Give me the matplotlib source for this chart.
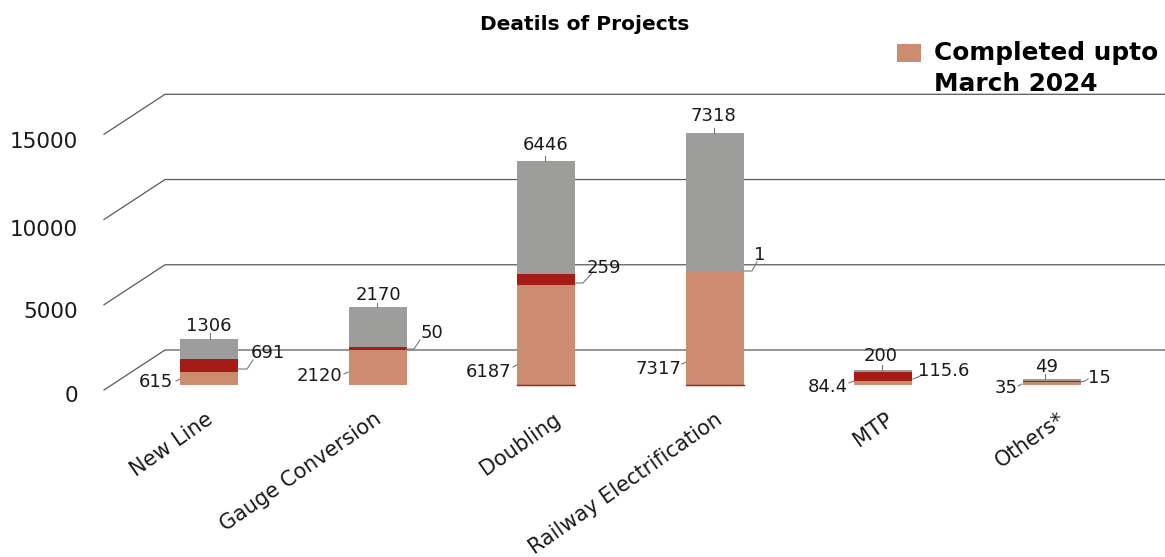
import matplotlib
matplotlib.use("Agg")
import matplotlib.pyplot as plt
import numpy as np

plt.rcParams['font.family'] = ['DejaVu Sans']

categories = ["New Line", "Gauge Conversion", "Doubling", "Railway Electrification", "MTP", "Others*"]
# printed data labels
completed_lbl = ["615", "2120", "6187", "7317", "84.4", "35"]
middle_lbl = ["691", "50", "259", "1", "115.6", "15"]
total_lbl = ["1306", "2170", "6446", "7318", "200", "49"]
# segment heights as drawn in the picture (they do not follow the printed labels exactly)
completed = [755, 2050, 5807, 6603, 261, 186]
middle = [755, 157, 639, 46, 465, 58]
upper = [1161, 2323, 6562, 8014, 174, 99]
yticks = [0, 5000, 10000, 15000]

W, H = 1165, 557
PX_PER_UNIT = 0.01722
X0, DX = 209, 168.5

SALMON = '#CD8B70'
DARKRED = '#A51B15'
GRAY = '#9D9D9B'
LINE = '#5a5a5a'
TEXT = '#1a1a1a'

fig = plt.figure(figsize=(W / 100, H / 100), dpi=100)
ax = fig.add_axes([0, 0, 1, 1])
ax.set_xlim(-X0 / DX, (W - X0) / DX)
ax.set_ylim(-(H - 385) / PX_PER_UNIT, 385 / PX_PER_UNIT)
ax.axis('off')

# pixel coords (y down) for labels and leaders
px = matplotlib.transforms.Affine2D().scale(1 / W, -1 / H).translate(0, 1) + fig.transFigure

x = np.arange(len(categories))
completed_a = np.array(completed)
middle_a = np.array(middle)
upper_a = np.array(upper)
width = 58 / DX

# fake 3d walls
x_front = (104 - X0) / DX
x_back = (165 - X0) / DX
x_end = (W - X0) / DX
for t in yticks:
    y_b = t * 0.99 + 2032
    y_f = t * 0.99 - 290
    ax.plot([x_front, x_back, x_end], [y_f, y_b, y_b], color=LINE, lw=0.9, zorder=1)

b1 = ax.bar(x, completed_a, width, color=SALMON, zorder=3, label="Completed upto\nMarch 2024")
ax.bar(x, middle_a, width, bottom=completed_a, color=DARKRED, zorder=3)
ax.bar(x, upper_a, width, bottom=completed_a + middle_a, color=GRAY, zorder=3)
# thin dark base under the two tall bars
ax.plot(x[2] + np.array([-width / 2, width / 2]), [0, 0], color=DARKRED, lw=1, zorder=4)
ax.plot(x[3] + np.array([-width / 2, width / 2]), [0, 0], color=DARKRED, lw=1, zorder=4)

# value labels: (text x, text y) in pixels, leader points in pixels
top_pos = [(209, 326), (378, 295), (546, 145), (713, 116), (881, 356), (1047, 367)]
top_lead = [(210, 339, 210, 333), (377, 307, 377, 303), (545, 161, 545, 156), (714, 133, 714, 128),
            (882, 370, 882, 365), (1045, 379, 1045, 374)]
mid_pos = [(268, 353), (432, 333), (604, 268), (760, 255), (944, 371), (1099, 378)]
mid_lead = [[(238, 369), (247, 369), (253, 360)], [(406, 349), (414, 349), (420, 340)],
            [(575, 283), (583, 283), (593, 272)], [(744, 271), (752, 271), (757, 262)],
            [(913, 379), (918, 377), (922, 375)], [(1080, 382), (1085, 381), (1088, 379)]]
low_pos = [(156, 382), (319, 376), (489, 372), (658, 369), (828, 387), (1006, 388)]
low_lead = [(180, 379, 176, 381), (348, 372, 344, 374), (517, 365, 513, 367), (686, 362, 682, 364),
            (854, 381, 849, 383), (1022, 384, 1018, 386)]

for i in x:
    ax.plot(top_lead[i][0::2], top_lead[i][1::2], color='#777777', lw=0.8, transform=px, zorder=4)
    ax.plot(*zip(*mid_lead[i]), color='#777777', lw=0.8, transform=px, zorder=4)
    ax.plot(low_lead[i][0::2], low_lead[i][1::2], color='#777777', lw=0.8, transform=px, zorder=4)
    ax.text(*top_pos[i], total_lbl[i], transform=px, ha='center', va='center', fontsize=13, color=TEXT, zorder=5)
    ax.text(*mid_pos[i], middle_lbl[i], transform=px, ha='center', va='center', fontsize=13, color=TEXT, zorder=5)
    ax.text(*low_pos[i], completed_lbl[i], transform=px, ha='center', va='center', fontsize=13, color=TEXT, zorder=5)

# y tick labels
ytick_py = [396.5, 311.5, 230.5, 142.5]
for t, py in zip(yticks, ytick_py):
    ax.text(78, py, str(t), transform=px, ha='right', va='center', fontsize=15.5, color=TEXT)

# category labels, rotated, anchored at their right end
cat_anchor = [(205, 409), (373, 409), (553, 409), (714, 409), (885, 409), (1058, 409)]
for c, (ax_x, ax_y) in zip(categories, cat_anchor):
    ax.text(ax_x, ax_y, c, transform=px, rotation=35, rotation_mode='anchor', ha='right', va='top',
            fontsize=15, color=TEXT)

ax.text(585, 24, "Deatils of Projects", transform=px, ha='center', va='center',
        fontsize=14.5, fontweight='bold', color='black')

leg = ax.legend(handles=[b1], loc='upper left', bbox_to_anchor=(877 / W, 1 - 21 / H), bbox_transform=fig.transFigure,
                frameon=False, prop={'size': 17.8, 'weight': 'bold'}, handlelength=0.98, handleheight=0.75,
                handletextpad=0.52, labelspacing=0, borderpad=0.3)
for t in leg.get_texts():
    t.set_linespacing(1.38)
# swatch sits beside the first line of the label
leg.legend_handles[0].set_y(leg.legend_handles[0].get_y() + 12)

fig.savefig("out.png", dpi=100)
